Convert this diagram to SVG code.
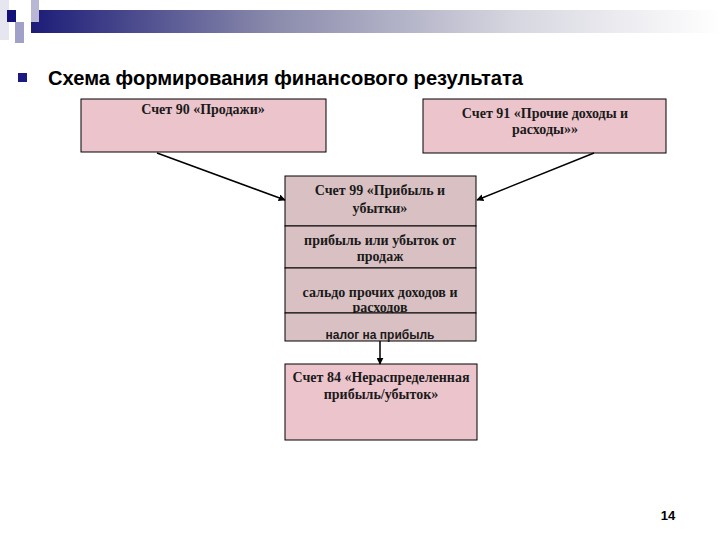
<svg xmlns="http://www.w3.org/2000/svg" width="720" height="540" viewBox="0 0 720 540">
<defs>
<linearGradient id="bar" x1="0" y1="0" x2="1" y2="0">
<stop offset="0" stop-color="#1c1c78"/>
<stop offset="0.35" stop-color="#8a8aac"/>
<stop offset="0.7" stop-color="#d6d6e0"/>
<stop offset="1" stop-color="#ffffff"/>
</linearGradient>
<marker id="arr" viewBox="0 0 10 10" refX="9" refY="5" markerWidth="7" markerHeight="7" orient="auto" markerUnits="userSpaceOnUse">
<path d="M0,0 L10,5 L0,10 z" fill="#000"/>
</marker>
<style>
.box{stroke:#000;stroke-width:1}
.pink{fill:#ecc4cc}
.grey{fill:#d9c1c3}
.t{font-family:"Liberation Serif","Times New Roman",serif;font-weight:bold;font-size:14px;fill:#1a1a1a;text-anchor:middle}
.s{font-family:"Liberation Sans",Arial,sans-serif;font-weight:bold;font-size:12px;fill:#1a1a1a;text-anchor:middle}
.c{stroke:#000;stroke-width:1.5;fill:none}
</style>
</defs>
<g id="banner">
<rect x="0" y="0" width="9" height="40" fill="#e6e6f0"/>
<rect x="31" y="10" width="689" height="23" fill="url(#bar)"/>
<rect x="31" y="0" width="8" height="22" fill="#b8b8d4"/>
<rect x="15" y="22" width="9" height="21" fill="#a0a0c8"/>
<rect x="7" y="10" width="9" height="12" fill="#12127a"/>
</g>
<g id="title">
<rect x="18" y="73" width="9" height="9" fill="#1a1a80"/>
<text x="48" y="85" font-family="Liberation Sans, Arial, sans-serif" font-weight="bold" font-size="20" textLength="475" lengthAdjust="spacingAndGlyphs" fill="#000">Схема формирования финансового результата</text>
</g>
<g id="n90">
<rect class="box pink" x="81" y="99" width="245" height="53"/>
<text class="t" x="203" y="114">Счет 90 «Продажи»</text>
</g>
<g id="n91">
<rect class="box pink" x="423" y="99" width="243" height="54"/>
<text class="t" x="545" y="118">Счет 91 «Прочие доходы и</text>
<text class="t" x="545" y="134">расходы»»</text>
</g>
<g id="n99">
<rect class="box grey" x="285" y="176" width="191" height="50"/>
<text class="t" x="380" y="195">Счет 99 «Прибыль и</text>
<text class="t" x="380" y="213">убытки»</text>
</g>
<g id="n99a">
<rect class="box grey" x="285" y="226" width="191" height="42"/>
<text class="t" x="380" y="245">прибыль или убыток от</text>
<text class="t" x="380" y="261">продаж</text>
</g>
<g id="n99b">
<rect class="box grey" x="285" y="268" width="191" height="45"/>
<text class="t" x="380" y="297">сальдо прочих доходов и</text>
<text class="t" x="380" y="312">расходов</text>
</g>
<g id="n99c">
<rect class="box grey" x="285" y="313" width="191" height="28"/>
<text class="s" x="380" y="339">налог на прибыль</text>
</g>
<g id="n84">
<rect class="box pink" x="285" y="364" width="192" height="76"/>
<text class="t" x="381" y="382">Счет 84 «Нераспределенная</text>
<text class="t" x="381" y="399">прибыль/убыток»</text>
</g>
<g id="connectors">
<line class="c" x1="157" y1="153" x2="285" y2="200" marker-end="url(#arr)"/>
<line class="c" x1="594" y1="153" x2="477" y2="200" marker-end="url(#arr)"/>
<line class="c" x1="380" y1="341" x2="380" y2="364" marker-end="url(#arr)"/>
</g>
<text x="668" y="520" font-family="Liberation Sans, Arial, sans-serif" font-weight="bold" font-size="13" fill="#000" text-anchor="middle">14</text>
</svg>
